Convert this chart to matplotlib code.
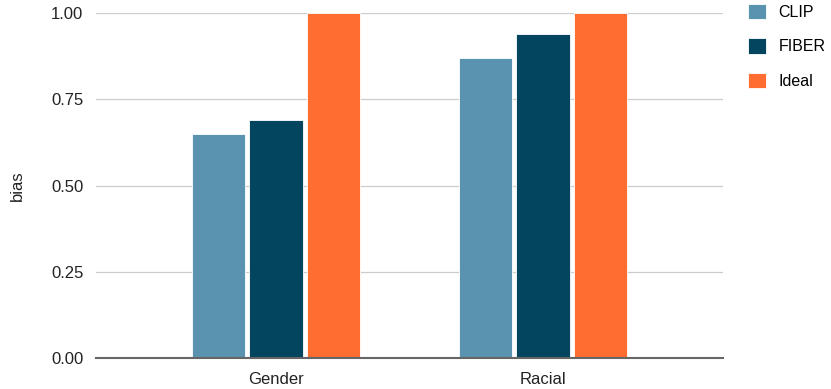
import matplotlib
matplotlib.use("Agg")
import matplotlib.pyplot as plt
import numpy as np

plt.rcParams['font.family'] = ['Liberation Sans', 'DejaVu Sans']

categories = ['Gender', 'Racial']
series_names = ['CLIP', 'FIBER', 'Ideal']
clip_bias = [0.65, 0.87]
fiber_bias = [0.69, 0.94]
ideal_bias = [1.0, 1.0]
colors = ['#5a93b0', '#03445f', '#ff6d31']
yticks = [0.0, 0.25, 0.5, 0.75, 1.0]

fig = plt.figure(figsize=(8.31, 3.89), dpi=100)
ax = fig.add_axes([96 / 831, 31 / 389, 627 / 831, 345 / 389])

x = np.arange(len(categories))
width = 0.2
step = 0.215
for i, (name, vals) in enumerate(zip(series_names, [clip_bias, fiber_bias, ideal_bias])):
    ax.bar(x + (i - 1) * step, vals, width, color=colors[i], label=name,
           edgecolor='white', linewidth=0.6, zorder=3)

ax.set_xlim(-0.674, 1.674)
ax.set_ylim(0, 1.0)
ax.set_yticks(yticks)
ax.set_yticklabels([f'{t:.2f}' for t in yticks])
ax.set_xticks(x)
ax.set_xticklabels(categories)
ax.grid(axis='y', color='#cccccc', linewidth=0.9, zorder=0)
ax.set_axisbelow(True)
for s in ['top', 'right', 'left']:
    ax.spines[s].set_visible(False)
ax.spines['bottom'].set_color('#666666')
ax.spines['bottom'].set_linewidth(1.5)
ax.spines['bottom'].set_zorder(4)
ax.tick_params(axis='both', length=0, labelsize=12, colors='#222222', pad=9)
ax.tick_params(axis='x', pad=10)
ax.set_ylabel('bias', fontsize=12, color='#222222', labelpad=19)

ax.legend(loc='upper left', bbox_to_anchor=(1.03, 1.045), frameon=False,
          fontsize=11.5, handlelength=1.1, handleheight=1.1, labelspacing=1.15,
          handletextpad=0.8, borderaxespad=0)

fig.savefig('out.png', dpi=100)
